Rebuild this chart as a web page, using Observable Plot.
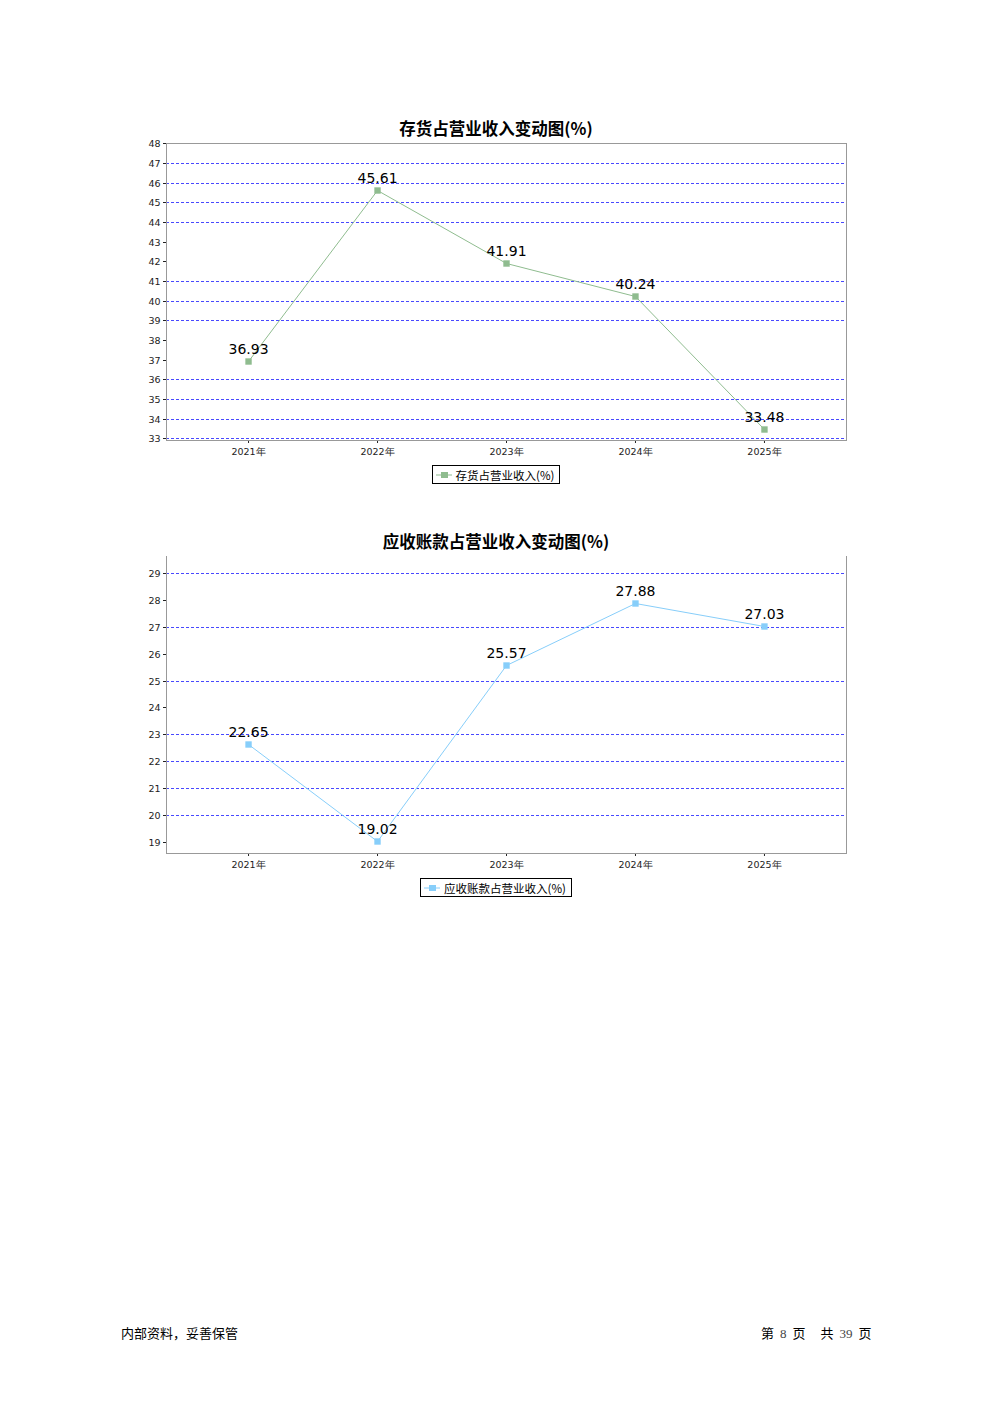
<!DOCTYPE html>
<html><head><meta charset="utf-8">
<script src="https://cdn.jsdelivr.net/npm/d3@7"></script>
<script src="https://cdn.jsdelivr.net/npm/@observablehq/plot@0.6"></script>
<style>
body{margin:0;width:992px;height:1403px;position:relative;background:#fff;font-family:"Noto Sans CJK SC","DejaVu Sans",sans-serif;overflow:hidden;}
.title{position:absolute;left:0;width:992px;text-align:center;font-weight:bold;font-size:16.5px;color:#000;line-height:20px;}
.chart{position:absolute;left:0;}
.legend{position:absolute;left:0;width:992px;display:flex;justify-content:center;}
.legend .box{border:1px solid #000;padding:0 5px 0 3px;height:17px;display:flex;align-items:center;font-size:11.5px;color:#000;}
.legend svg{margin-right:4px;}
.foot{position:absolute;top:1323px;font-size:13px;color:#000;white-space:nowrap;}
.foot .n{font-family:"Liberation Serif",serif;color:#444;}
</style></head>
<body>
<div class="title" style="top:118px">存货占营业收入变动图(%)</div>
<div class="chart" id="c1" style="top:135px"></div>
<div class="legend" style="top:465px" id="l1"></div>
<div class="title" style="top:531px">应收账款占营业收入变动图(%)</div>
<div class="chart" id="c2" style="top:548px"></div>
<div class="legend" style="top:878px" id="l2"></div>
<div class="foot" style="left:121px">内部资料，妥善保管</div>
<div class="foot" style="left:761px"><span>第</span><span class="n" style="margin-left:6px">8</span><span style="margin-left:6px">页</span><span style="margin-left:15px">共</span><span class="n" style="margin-left:6px">39</span><span style="margin-left:6px">页</span></div>
<script>
const years = ["2021年","2022年","2023年","2024年","2025年"];
const inventoryRatio = [36.93, 45.61, 41.91, 40.24, 33.48];
const receivableRatio = [22.65, 19.02, 25.57, 27.88, 27.03];
const yTicks1 = [33,34,35,36,37,38,39,40,41,42,43,44,45,46,47,48];
const yGrid1 = [33,34,35,36,39,40,41,44,45,46,47];
const yTicks2 = [19,20,21,22,23,24,25,26,27,28,29];
const yGrid2 = [20,21,22,23,25,27,29];
const legend1 = "存货占营业收入(%)";
const legend2 = "应收账款占营业收入(%)";

function chart(values, ticks, grid, yDomain, color, topFrame) {
  const data = years.map((y, i) => ({year: y, v: values[i]}));
  const frameMarks = topFrame
    ? [Plot.frame({stroke: "#999", strokeWidth: 1})]
    : [Plot.frame({anchor: "left", stroke: "#999"}), Plot.frame({anchor: "right", stroke: "#999"}), Plot.frame({anchor: "bottom", stroke: "#999"})];
  return Plot.plot({
    width: 992, height: 325,
    marginLeft: 166, marginRight: 146, marginTop: 8, marginBottom: 20,
    style: {fontFamily: "DejaVu Sans, sans-serif", fontSize: "9.5px", color: "#222", background: "transparent"},
    x: {type: "point", domain: years, padding: 0.636, round: false, label: null},
    y: {domain: yDomain, round: true, label: null},
    marks: [
      Plot.ruleY(grid, {stroke: "#4848ff", strokeDasharray: "3,2", strokeWidth: 1}),
      Plot.axisY({ticks: ticks, tickSize: 3, tickPadding: 3, label: null, fontSize: 9.5}),
      Plot.axisX({tickSize: 3, tickPadding: 5, label: null, fontSize: 9.5}),
      ...frameMarks,
      Plot.line(data, {x: "year", y: "v", stroke: color, strokeWidth: 1}),
      Plot.dot(data, {x: "year", y: "v", symbol: "square", r: 3.6, fill: color, stroke: "none"}),
      Plot.text(data, {x: "year", y: "v", text: d => d.v.toFixed(2), dy: -12, fontSize: 14, fill: "#000", fontFamily: "DejaVu Sans, sans-serif"})
    ]
  });
}

function legend(el, label, color) {
  el.innerHTML = `<div class="box"><svg width="16" height="10"><line x1="0" y1="5" x2="16" y2="5" stroke="${color}" stroke-width="1"/><rect x="5" y="2" width="7" height="6" fill="${color}"/></svg><span>${label}</span></div>`;
}

document.getElementById("c1").appendChild(chart(inventoryRatio, yTicks1, yGrid1, [32.92, 48.02], "#8fbc8f", true));
document.getElementById("c2").appendChild(chart(receivableRatio, yTicks2, yGrid2, [18.59, 29.63], "#87cefa", false));
legend(document.getElementById("l1"), legend1, "#8fbc8f");
legend(document.getElementById("l2"), legend2, "#87cefa");
</script>
</body></html>
